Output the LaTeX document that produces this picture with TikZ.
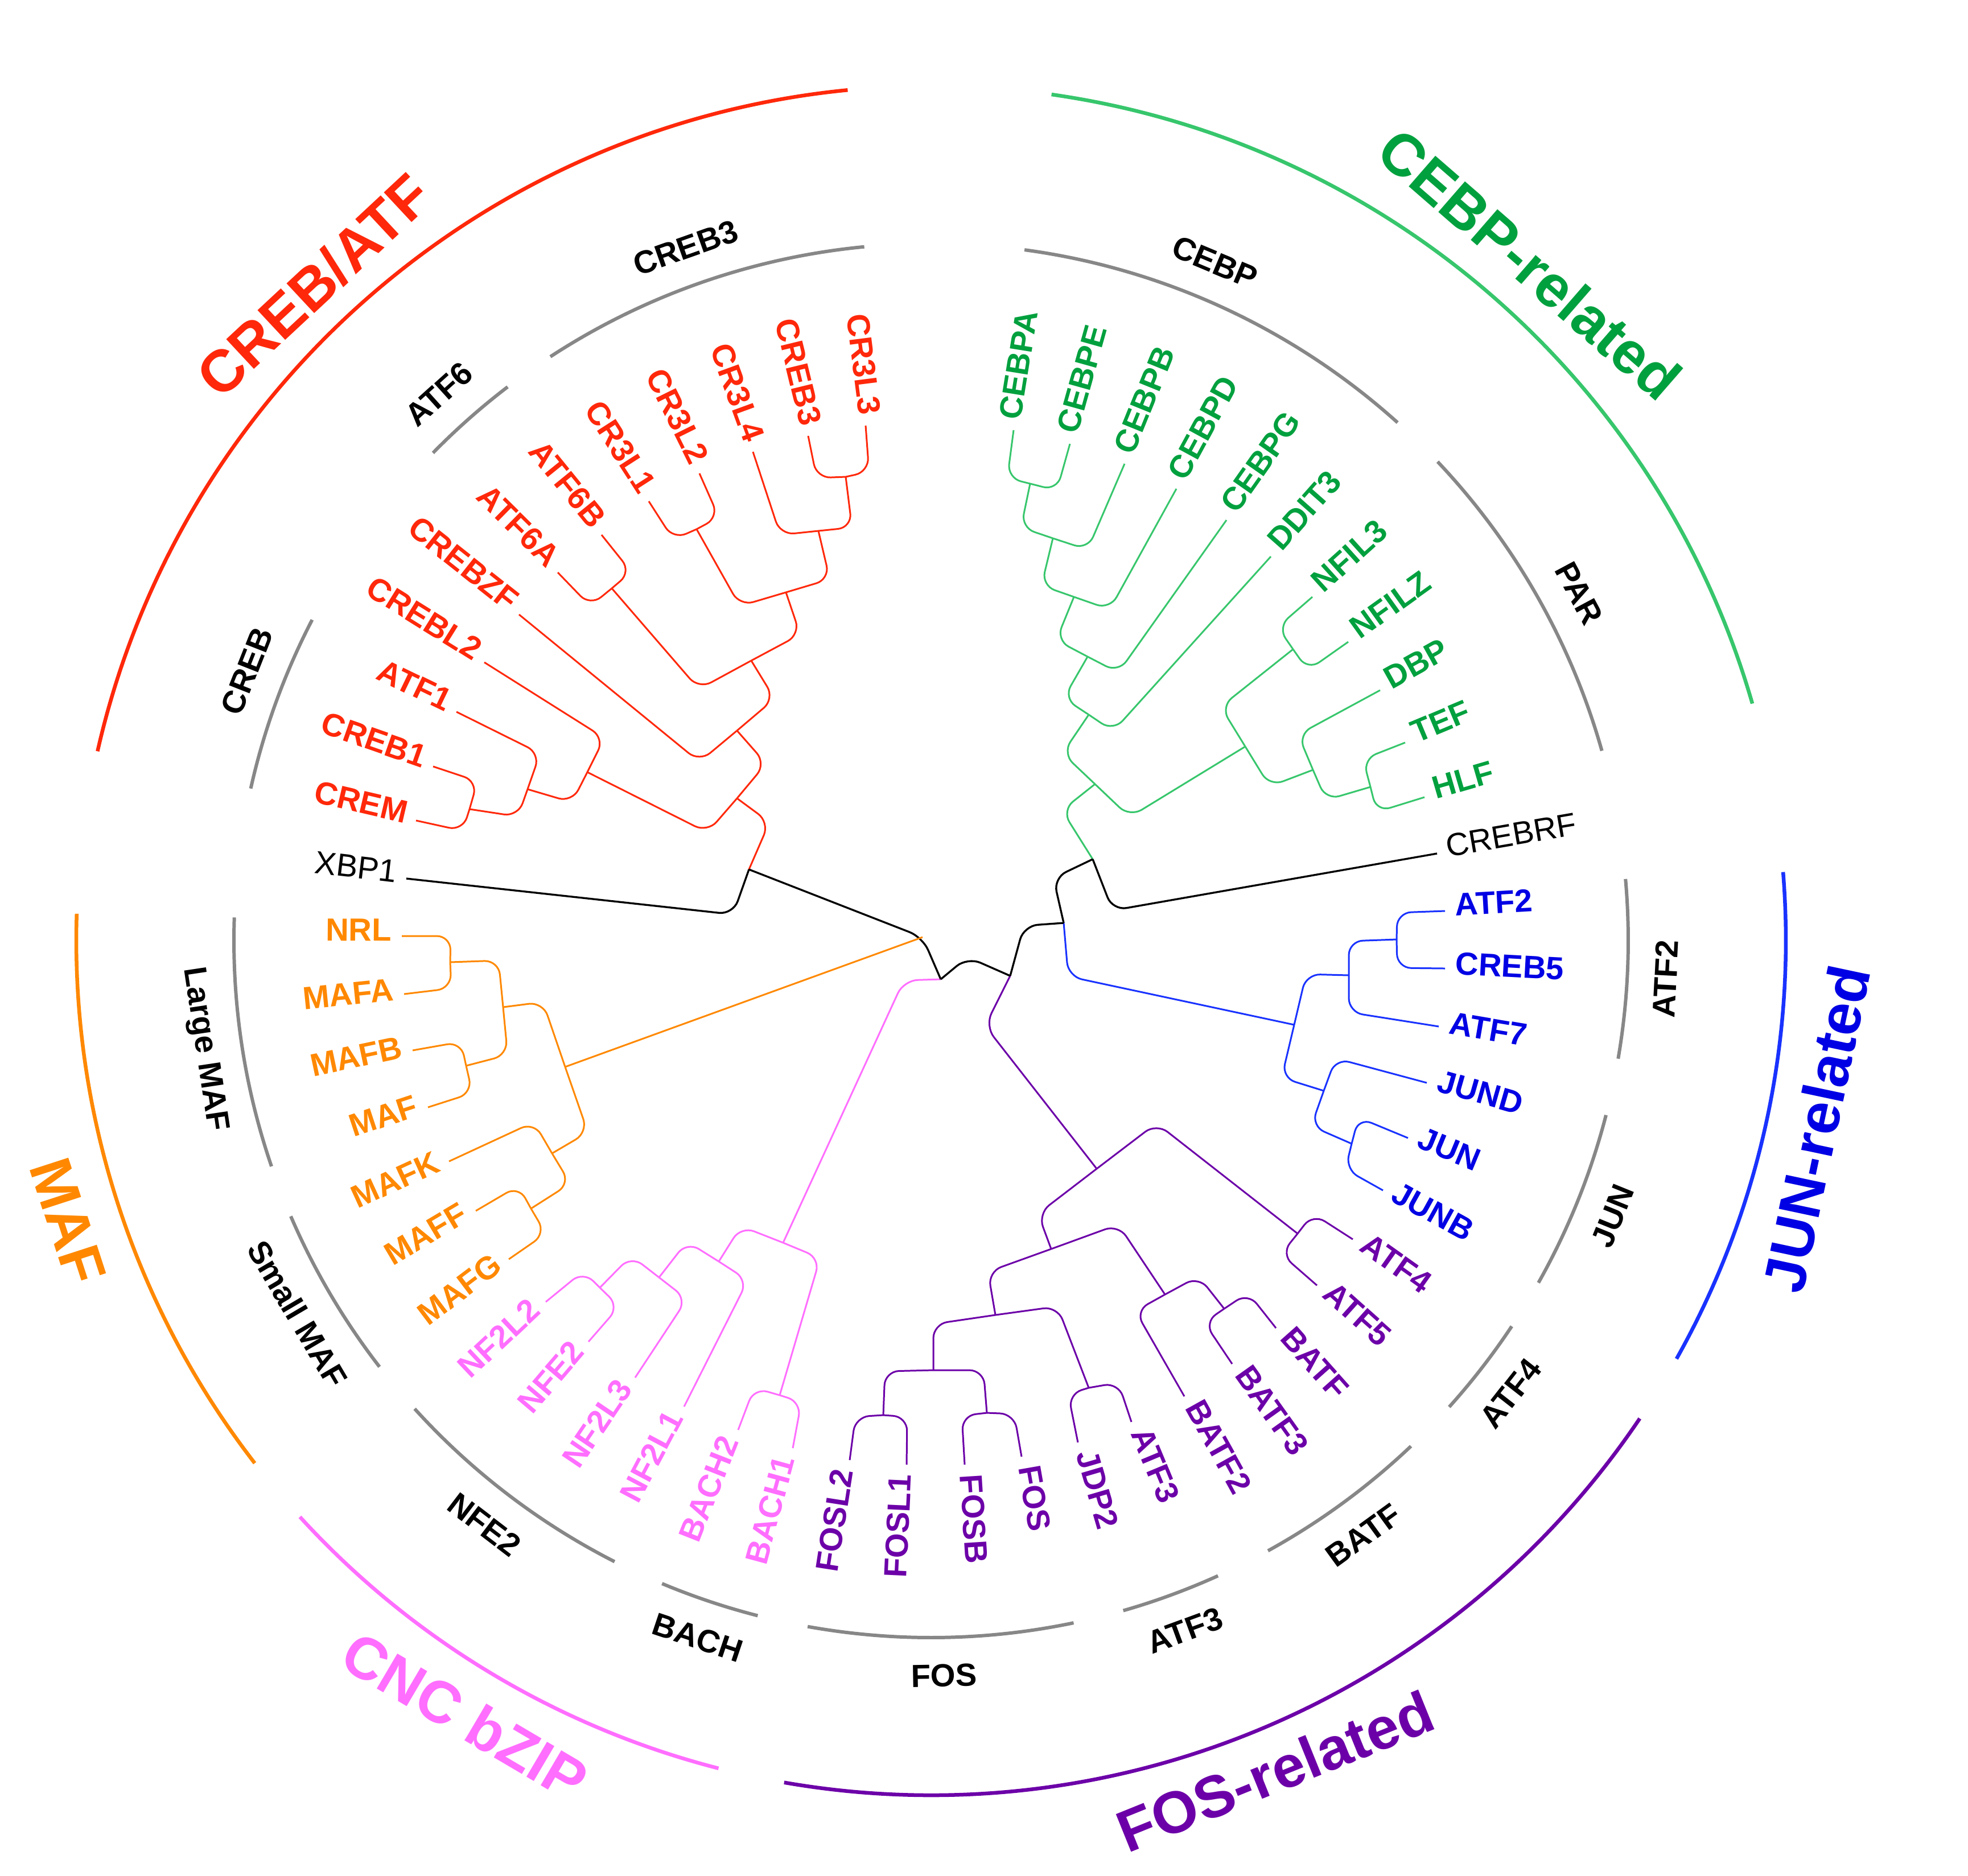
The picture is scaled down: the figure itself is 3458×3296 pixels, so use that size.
\documentclass[tikz,border=0pt]{standalone}
\usepackage{fontspec}
\setmainfont{Liberation Sans}
\usetikzlibrary{calc}
\definecolor{cred}{RGB}{255,40,10}
\definecolor{cgreenL}{RGB}{55,198,108}
\definecolor{cgreenT}{RGB}{0,160,62}
\definecolor{cblueL}{RGB}{25,50,255}
\definecolor{cblueT}{RGB}{0,0,228}
\definecolor{cpurp}{RGB}{108,0,168}
\definecolor{cpink}{RGB}{255,110,255}
\definecolor{corange}{RGB}{255,136,0}
\definecolor{cgray}{RGB}{135,135,135}
\newcommand{\leafL}[3]{\path let \p1=($(#1)-(ctr)$), \n1={atan2(\y1,\x1)+180} in node[leaf,#3,rotate=\n1,anchor=mid east] (lab-#1) at (#1) {#2};}
\newcommand{\leafR}[3]{\path let \p1=($(#1)-(ctr)$), \n1={atan2(\y1,\x1)} in node[leaf,#3,rotate=\n1,anchor=mid west] (lab-#1) at (#1) {#2};}
\begin{document}
\begin{tikzpicture}[x=0.01cm,y=-0.01cm,
  tr/.style={line width=0.85pt, rounded corners=7pt},
  rl/.style={tr, draw=cred},
  kl/.style={tr, draw=black, line width=0.95pt},
  ol/.style={tr, draw=corange},
  pl/.style={tr, draw=cpink},
  ul/.style={tr, draw=cpurp},
  bl/.style={tr, draw=cblueL},
  gl/.style={tr, draw=cgreenL},
  leaf/.style={font=\fontsize{16}{19}\selectfont\bfseries, inner xsep=5pt, inner ysep=0pt},
  grp/.style={font=\fontsize{16}{19}\selectfont\bfseries, inner sep=0pt},
  ttl/.style={font=\fontsize{29.5}{35}\selectfont\bfseries, inner sep=0pt},
  garc/.style={draw=cgray, line width=1.7pt},
  oarc/.style={line width=1.85pt}]
\useasboundingbox (0,0) rectangle (3458,3296);
\coordinate (ctr) at (1636,1653);
% leaves
\foreach \q/\xx/\yy in {CR3L3/1521/748, CREB3/1420/766, CR3L4/1323/794, CR3L2/1229/832, CR3L1/1140/881, ATF6B/1057/940, ATF6A/980/1006, CREBZF/912/1080, CREBL2/851/1164, ATF1/802/1251, CREB1/761/1347, CREM/731/1442, XBP1/714/1544,
 NRL/706/1645, MAFA/710/1747, MAFB/725/1846, MAF/752/1946, MAFK/789/2041, MAFF/836/2128, MAFG/894/2213,
 NF2L2/959/2288, NFE2/1034/2358, NF2L3/1116/2421, NF2L1/1202/2472, BACH2/1297/2513, BACH1/1393/2545,
 FOSL2/1493/2566, FOSL1/1593/2574, FOSB/1695/2574, FOS/1795/2560, JDP2/1894/2535, ATF3/1988/2499, BATF2/2081/2454, BATF3/2165/2397, BATF/2242/2334, ATF5/2314/2259, ATF4/2377/2178,
 JUNB/2430/2092, JUN/2474/2000, JUND/2507/1903, ATF7/2528/1804, CREB5/2539/1702, ATF2/2539/1601,
 CREBRF/2525/1500, HLF/2503/1401, TEF/2469/1305, DBP/2425/1213, NFILZ/2369/1128, NFIL3/2306/1049, DDIT3/2233/978, CEBPG/2155/914, CEBPD/2067/859, CEBPB/1976/815, CEBPE/1880/780, CEBPA/1781/756}
 {\coordinate (\q) at (\xx,\yy);}
% internal nodes
\foreach \q/\xx/\yy in {c1/1486/838, c2/1438/933, c3/1224/930, c4/1381/1041, c5/1075/1034, c6/1320/1161, c7/1295/1284, c8/825/1422, c9/927/1387, c10/1032/1357, c11/1295/1403, rX/1316/1528, rA/1621/1647,
 m1/791/1691, m2/819/1873, m3/884/1770, m4/933/2124, m5/970/2027, m6/993/1875,
 p1/1054/2263, p2/1158/2245, p3/1263/2217, p4/1370/2452, p5/1376/2184, rP/1653/1721,
 f1/1552/2487, f2/1734/2483, f3/1640/2408, f4/1913/2439, f5/1749/2311, f6/2151/2300, f7/2047/2275, f8/1847/2195, f9/2280/2168, f10/1927/2054, rJ1/1775/1715,
 j1/2454/1651, j2/2370/1714, j3/2375/2010, j4/2326/1917, j5/2274/1801, rJ2/1869/1622,
 g1/1810/850, g2/1850/946, g3/1887/1049, g4/1911/1154, g5/1913/1256, g6/2272/1141, g7/2408/1383, g8/2307/1353, g9/2188/1312, g10/1924/1378, rJ3/1920/1510}
 {\coordinate (\q) at (\xx,\yy);}
% corners
\foreach \q/\xx/\yy in {CR3L3/1527/829, CREB3/1435/840, CR3L4/1371/940, c1/1497/927, CR3L2/1263/909, CR3L1/1183/948, c3/1300/1065, c2/1458/1018, ATF6B/1109/1005, ATF6A/1037/1065, c5/1228/1211, c4/1406/1115, CREBZF/1229/1339, c6/1361/1228, CREB1/839/1373, CREM/813/1460, ATF1/949/1324, c8/910/1435, CREBL2/1062/1297, c9/1005/1410, c10/1243/1463, c7/1346/1342, c11/1352/1445, XBP1/1288/1607,
 NRL/792/1645, MAFA/793/1737, MAFB/810/1831, MAF/830/1921, m1/876/1688, m2/892/1854, MAFF/911/2084, MAFG/959/2168, MAFK/938/1972, m4/1002/2080, m3/954/1761, m5/1033/1990,
 NF2L2/1025/2234, NFE2/1088/2296, p1/1109/2207, NF2L3/1207/2283, p2/1207/2182, NF2L1/1314/2250, BACH2/1325/2439, BACH1/1408/2464, p3/1302/2155, p4/1441/2211, p5/1588/1723, rJ1/1700/1682,
 FOSL2/1503/2490, FOSL1/1594/2490, FOSB/1690/2488, FOS/1782/2485, f1/1555/2410, f2/1728/2408, JDP2/1877/2450, ATF3/1965/2430, f3/1640/2327, f4/1858/2296, BATF3/2116/2324, BATF/2193/2272, BATF2/1995/2304, f6/2106/2243, f5/1736/2235, f7/1965/2152, ATF4/2307/2133, ATF5/2251/2204, f8/1824/2133, f9/2032/1974, f10/1731/1803, rJ2/1799/1627,
 ATF2/2455/1604, CREB5/2455/1701, j1/2370/1654, ATF7/2370/1779, JUN/2387/1964, JUNB/2364/2055, JUND/2347/1860, j3/2304/1979, j2/2295/1712, j4/2252/1894, j5/1877/1716, rJ3/1851/1543,
 CEBPA/1770/840, CEBPE/1857/862, g1/1794/927, CEBPB/1911/966, g2/1830/1029, CEBPD/1950/1071, g3/1856/1125, CEBPG/1965/1182, g4/1869/1227, DDIT3/1956/1285, NFIL3/2245/1102, NFILZ/2298/1178, TEF/2395/1334, HLF/2419/1427, DBP/2281/1291, g7/2330/1406, g6/2145/1242, g8/2231/1382, g5/1867/1324, g9/1985/1436, g10/1866/1424, CREBRF/1955/1600}
 {\coordinate (K\q) at (\xx,\yy);}
% tree edges
\foreach \p/\c in {c1/CR3L3, c1/CREB3, c2/CR3L4, c2/c1, c3/CR3L2, c3/CR3L1, c4/c3, c4/c2, c5/ATF6B, c5/ATF6A, c6/c5, c6/c4, c7/CREBZF, c7/c6, c8/CREB1, c8/CREM, c9/ATF1, c9/c8, c10/CREBL2, c10/c9, c11/c10, c11/c7, rX/c11}
 {\draw[rl] (\p) -- (K\c) -- (\c);}
\foreach \p/\c in {m1/NRL, m1/MAFA, m2/MAFB, m2/MAF, m3/m1, m3/m2, m4/MAFF, m4/MAFG, m5/MAFK, m5/m4, m6/m3, m6/m5}
 {\draw[ol] (\p) -- (K\c) -- (\c);}
\foreach \p/\c in {p1/NF2L2, p1/NFE2, p2/p1, p2/NF2L3, p3/p2, p3/NF2L1, p4/BACH2, p4/BACH1, p5/p3, p5/p4, rP/p5}
 {\draw[pl] (\p) -- (K\c) -- (\c);}
\foreach \p/\c in {f1/FOSL2, f1/FOSL1, f2/FOSB, f2/FOS, f3/f1, f3/f2, f4/JDP2, f4/ATF3, f5/f3, f5/f4, f6/BATF3, f6/BATF, f7/BATF2, f7/f6, f8/f5, f8/f7, f9/ATF4, f9/ATF5, f10/f8, f10/f9, rJ1/f10}
 {\draw[ul] (\p) -- (K\c) -- (\c);}
\foreach \p/\c in {j1/ATF2, j1/CREB5, j2/j1, j2/ATF7, j3/JUN, j3/JUNB, j4/JUND, j4/j3, j5/j2, j5/j4, rJ2/j5}
 {\draw[bl] (\p) -- (K\c) -- (\c);}
\foreach \p/\c in {g1/CEBPA, g1/CEBPE, g2/g1, g2/CEBPB, g3/g2, g3/CEBPD, g4/g3, g4/CEBPG, g5/g4, g5/DDIT3, g6/NFIL3, g6/NFILZ, g7/TEF, g7/HLF, g8/DBP, g8/g7, g9/g6, g9/g8, g10/g5, g10/g9, rJ3/g10}
 {\draw[gl] (\p) -- (K\c) -- (\c);}
\foreach \p/\c in {rX/XBP1, rP/rJ1, rJ1/rJ2, rJ2/rJ3, rJ3/CREBRF}
 {\draw[kl] (\p) -- (K\c) -- (\c);}
\draw[kl] (rX) -- (rA) -- (rP);
\draw[ol] (rA) -- (m6);
% leaf labels
\foreach \q in {CR3L3, CREB3, CR3L4, CR3L2, CR3L1, ATF6B, ATF6A, CREBZF, CREBL2, ATF1, CREB1, CREM} {\leafL{\q}{\q}{text=cred}}
\leafL{XBP1}{XBP1}{text=black, font=\fontsize{16}{19}\selectfont}
\foreach \q in {NRL, MAFA, MAFB, MAF, MAFK, MAFF, MAFG} {\leafL{\q}{\q}{text=corange}}
\foreach \q in {NF2L2, NFE2, NF2L3, NF2L1, BACH2, BACH1} {\leafL{\q}{\q}{text=cpink}}
\foreach \q in {FOSL2, FOSL1} {\leafL{\q}{\q}{text=cpurp}}
\foreach \q in {FOSB, FOS, JDP2, ATF3, BATF2, BATF3, BATF, ATF5, ATF4} {\leafR{\q}{\q}{text=cpurp}}
\foreach \q in {JUNB, JUN, JUND, ATF7, CREB5, ATF2} {\leafR{\q}{\q}{text=cblueT}}
\leafR{CREBRF}{CREBRF}{text=black, font=\fontsize{16}{19}\selectfont}
\foreach \q in {HLF, TEF, DBP, NFILZ, NFIL3, DDIT3, CEBPG, CEBPD, CEBPB, CEBPE, CEBPA} {\leafR{\q}{\q}{text=cgreenT}}
% subgroup arcs
\foreach \a/\b in {95.5/123.1, 127.4/135.6, 152.6/167.4, 178.1/198.9, 203.3/217.7, 222.2/243, 247.3/255.6, 259.8/281.8, 286/294.3, 298.9/313.5, 318/326.4, 330.6/345.5, 350.24/365.07, 15.8/43.4, 48/82.3}
 {\draw[garc] ($(ctr)+(-\a:1225)$) arc[start angle=-\a, end angle=-\b, radius=1225];}
% subgroup labels
\foreach \nm/\t/\a/\r in {CREB3/CREB3/109.5/19.5, ATF6/ATF6/132/42, CREB/CREB/158.5/68.5, LMAF/Large MAF/188.5/-81.5, SMAF/Small MAF/210.5/-59.5, NFE2/NFE2/232.6/-37.4, BACH/BACH/251.5/-18.5, FOS/FOS/271/1, ATF3/ATF3/290.2/20.2, BATF/BATF/306/36, ATF4/ATF4/322/52, JUN/JUN/338/68, ATF2/ATF2/357/87, PAR/PAR/28.2/-61.8, CEBP/CEBP/67.3/-22.7}
 {\node[grp, rotate=\r] (g-\nm) at ($(ctr)+(-\a:1292)$) {\t};}
% outer arcs
\draw[oarc, draw=cred] ($(ctr)+(-95.6:1502)$) arc[start angle=-95.6, end angle=-167.2, radius=1502];
\draw[oarc, draw=corange] ($(ctr)+(-178.2:1502)$) arc[start angle=-178.2, end angle=-217.7, radius=1502];
\draw[oarc, draw=cpink] ($(ctr)+(-222.4:1502)$) arc[start angle=-222.4, end angle=-255.6, radius=1502];
\draw[oarc, draw=cpurp] ($(ctr)+(-260.1:1502)$) arc[start angle=-260.1, end angle=-326, radius=1502];
\draw[oarc, draw=cblueL] ($(ctr)+(-330.7:1502)$) arc[start angle=-330.7, end angle=-364.6, radius=1502];
\draw[oarc, draw=cgreenL] ($(ctr)+(-16.1:1502)$) arc[start angle=-16.1, end angle=-81.9, radius=1502];
% titles
\node[ttl, text=cred, rotate=43] (t-creb) at ($(ctr)+(-133.3:1582)$) {CREB/ATF};
\node[ttl, text=cgreenT, rotate=-41] (t-cebp) at ($(ctr)+(-48.5:1588)$) {CEBP-related};
\node[ttl, text=cblueT, rotate=78] (t-jun) at ($(ctr)+(-348:1590)$) {JUN-related};
\node[ttl, text=cpurp, rotate=22] (t-fos) at ($(ctr)+(-292.5:1580)$) {FOS-related};
\node[ttl, text=cpink, rotate=-30.5] (t-cnc) at ($(ctr)+(-239:1590)$) {CNC bZIP};
\node[ttl, text=corange, rotate=-72] (t-maf) at ($(ctr)+(-198:1595)$) {MAF};
\end{tikzpicture}
\end{document}
